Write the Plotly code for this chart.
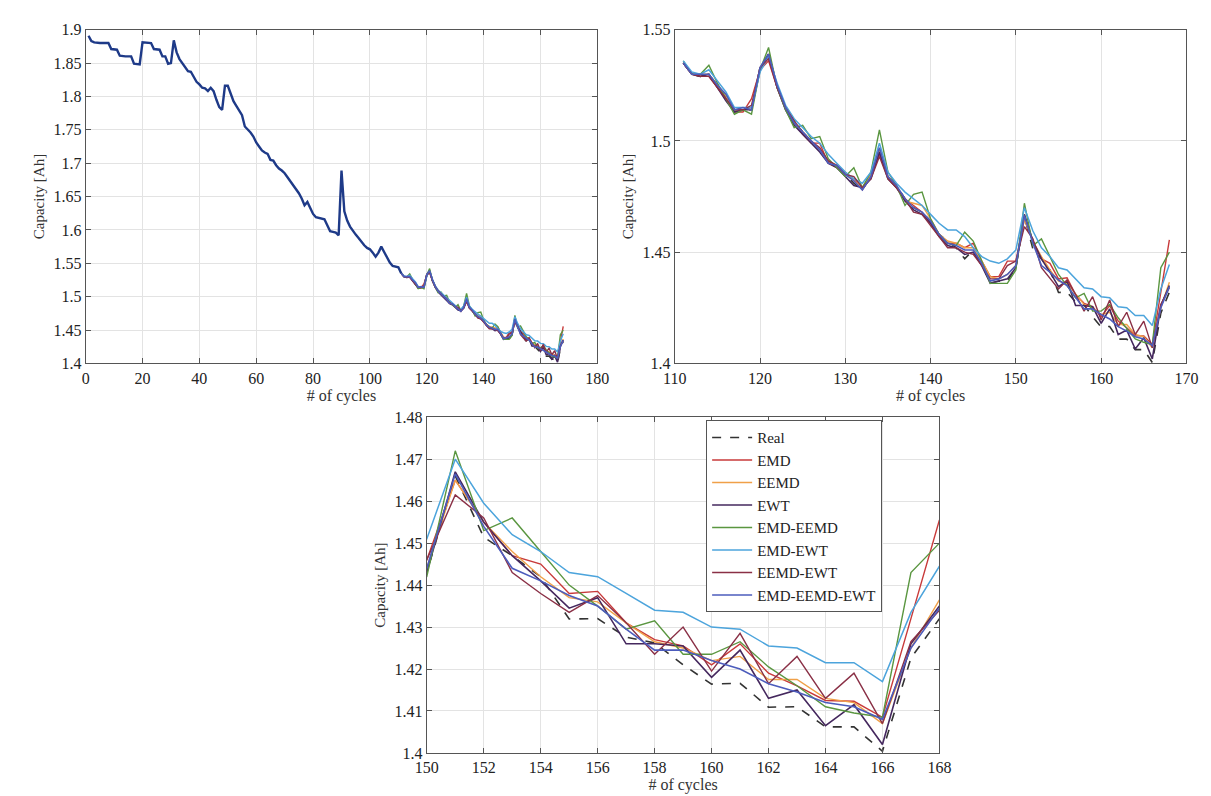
import plotly.graph_objects as go

# ---------------- data ----------------
hist_capacity = [
    1.891, 1.883, 1.881, 1.880, 1.880, 1.880, 1.880, 1.880, 1.871, 1.870,
    1.870, 1.861, 1.860, 1.860, 1.860, 1.860, 1.849, 1.848, 1.848, 1.881,
    1.881, 1.881, 1.880, 1.871, 1.870, 1.870, 1.860, 1.860, 1.849, 1.850,
    1.884, 1.866, 1.856, 1.850, 1.843, 1.838, 1.837, 1.830, 1.822, 1.818,
    1.813, 1.812, 1.808, 1.813, 1.808, 1.795, 1.784, 1.780, 1.816, 1.816,
    1.805, 1.793, 1.786, 1.779, 1.772, 1.755, 1.751, 1.746, 1.740, 1.731,
    1.725, 1.719, 1.716, 1.714, 1.705, 1.704, 1.697, 1.692, 1.689, 1.685,
    1.679, 1.673, 1.667, 1.661, 1.655, 1.647, 1.637, 1.642, 1.632, 1.624,
    1.619, 1.618, 1.617, 1.616, 1.607, 1.598, 1.597, 1.596, 1.592, 1.689,
    1.628, 1.614, 1.605, 1.598, 1.593, 1.588, 1.582, 1.577, 1.573, 1.571,
    1.566, 1.560, 1.566, 1.575, 1.567, 1.558, 1.551, 1.546, 1.545, 1.544,
    1.535,
]
hist_cycles = list(range(1, len(hist_capacity) + 1))

pred_cycles = list(range(111, 169))

real = [
    1.535, 1.530, 1.529, 1.530, 1.525, 1.520, 1.514, 1.514, 1.514, 1.533,
    1.539, 1.525, 1.515, 1.509, 1.504, 1.500, 1.496, 1.491, 1.489, 1.485,
    1.481, 1.478, 1.484, 1.496, 1.484, 1.480, 1.474, 1.470, 1.468, 1.464,
    1.458, 1.455, 1.452, 1.447, 1.451, 1.445, 1.436, 1.437, 1.437,
    1.443, 1.466, 1.4514, 1.447, 1.442, 1.4319, 1.432, 1.4276, 1.4262, 1.421,
    1.4164, 1.4166, 1.4109, 1.411, 1.4062, 1.4062, 1.4004, 1.4226, 1.432,
]

emd = [
    1.535, 1.530, 1.529, 1.529, 1.524, 1.519, 1.513, 1.513, 1.519, 1.532,
    1.536, 1.524, 1.514, 1.508, 1.503, 1.499, 1.499, 1.490, 1.488, 1.485,
    1.483, 1.478, 1.484, 1.494, 1.484, 1.479, 1.474, 1.471, 1.468, 1.463,
    1.458, 1.454, 1.454, 1.452, 1.454, 1.446, 1.439, 1.439, 1.446,
    1.446, 1.465, 1.455, 1.447, 1.445, 1.438, 1.4385, 1.431, 1.427, 1.4255,
    1.421, 1.426, 1.419, 1.416, 1.4125, 1.4123, 1.4085, 1.432, 1.4555,
]

eemd = [
    1.535, 1.530, 1.530, 1.530, 1.525, 1.520, 1.514, 1.514, 1.515, 1.533,
    1.538, 1.525, 1.515, 1.508, 1.504, 1.500, 1.496, 1.491, 1.489, 1.486,
    1.482, 1.479, 1.485, 1.496, 1.484, 1.480, 1.473, 1.472, 1.471, 1.465,
    1.458, 1.455, 1.454, 1.452, 1.452, 1.446, 1.439, 1.438, 1.440,
    1.444, 1.465, 1.455, 1.448, 1.442, 1.437, 1.436, 1.431, 1.4265, 1.425,
    1.422, 1.423, 1.4175, 1.4175, 1.413, 1.412, 1.407, 1.425, 1.4365,
]

ewt = [
    1.535, 1.530, 1.529, 1.530, 1.524, 1.518, 1.513, 1.514, 1.514, 1.532,
    1.539, 1.524, 1.514, 1.507, 1.503, 1.499, 1.495, 1.490, 1.488, 1.484,
    1.480, 1.479, 1.483, 1.495, 1.483, 1.479, 1.473, 1.469, 1.467, 1.463,
    1.457, 1.453, 1.452, 1.449, 1.450, 1.444, 1.436, 1.437, 1.438,
    1.443, 1.467, 1.455, 1.447, 1.441, 1.4345, 1.437, 1.426, 1.426, 1.4255,
    1.418, 1.4245, 1.413, 1.415, 1.4065, 1.4115, 1.402, 1.426, 1.435,
]

emd_eemd = [
    1.536, 1.530, 1.530, 1.534, 1.526, 1.519, 1.512, 1.514, 1.512, 1.532,
    1.542, 1.524, 1.514, 1.506, 1.507, 1.501, 1.502, 1.492, 1.488, 1.484,
    1.488, 1.479, 1.486, 1.505, 1.486, 1.480, 1.471, 1.476, 1.477, 1.465,
    1.458, 1.454, 1.453, 1.459, 1.455, 1.446, 1.436, 1.436, 1.436,
    1.442, 1.472, 1.453, 1.456, 1.448, 1.440, 1.435, 1.4295, 1.4315, 1.4235,
    1.4235, 1.4265, 1.4205, 1.416, 1.411, 1.4095, 1.4085, 1.443, 1.450,
]

emd_ewt = [
    1.536, 1.531, 1.530, 1.532, 1.527, 1.522, 1.515, 1.515, 1.515, 1.531,
    1.538, 1.526, 1.516, 1.510, 1.506, 1.502, 1.499, 1.494, 1.490, 1.486,
    1.483, 1.481, 1.486, 1.499, 1.486, 1.481, 1.477, 1.474, 1.471, 1.467,
    1.463, 1.460, 1.460, 1.457, 1.452, 1.448, 1.446, 1.445, 1.447,
    1.451, 1.470, 1.4595, 1.452, 1.448, 1.443, 1.442, 1.438, 1.434, 1.4335,
    1.430, 1.4295, 1.4255, 1.425, 1.4215, 1.4215, 1.417, 1.4335, 1.4445,
]

eemd_ewt = [
    1.535, 1.530, 1.529, 1.529, 1.524, 1.519, 1.514, 1.514, 1.516, 1.533,
    1.537, 1.524, 1.515, 1.509, 1.504, 1.500, 1.497, 1.491, 1.489, 1.485,
    1.484, 1.479, 1.483, 1.493, 1.483, 1.479, 1.474, 1.468, 1.467, 1.462,
    1.457, 1.452, 1.452, 1.450, 1.449, 1.444, 1.438, 1.438, 1.444,
    1.446, 1.4615, 1.456, 1.443, 1.438, 1.4335, 1.4375, 1.431, 1.4235, 1.430,
    1.4195, 1.4285, 1.4165, 1.423, 1.413, 1.419, 1.407, 1.4265, 1.434,
]

emd_eemd_ewt = [
    1.535, 1.530, 1.530, 1.530, 1.525, 1.521, 1.514, 1.515, 1.514, 1.533,
    1.539, 1.525, 1.515, 1.508, 1.504, 1.500, 1.496, 1.490, 1.489, 1.485,
    1.482, 1.478, 1.484, 1.497, 1.484, 1.480, 1.474, 1.470, 1.468, 1.464,
    1.458, 1.454, 1.453, 1.451, 1.451, 1.445, 1.437, 1.438, 1.440,
    1.444, 1.4665, 1.454, 1.444, 1.441, 1.4375, 1.435, 1.4295, 1.4245, 1.4245,
    1.422, 1.420, 1.4165, 1.4145, 1.412, 1.411, 1.408, 1.425, 1.4345,
]

series_names = ["EMD", "EEMD", "EWT", "EMD-EEMD", "EMD-EWT", "EEMD-EWT", "EMD-EEMD-EWT"]
series_values = [emd, eemd, ewt, emd_eemd, emd_ewt, eemd_ewt, emd_eemd_ewt]
series_colors = ["#c83a3a", "#f0a048", "#45285e", "#5a9640", "#4ca4dc", "#8a3046", "#4c5cbc"]
series_widths = [1.4, 1.4, 1.6, 1.4, 1.5, 1.4, 1.6]

# ---------------- figure ----------------
W, H = 1211, 796
def px_x(a, b):
    return [a / W, b / W]
def px_y(top, bottom):
    return [1 - bottom / H, 1 - top / H]

FONT = "Liberation Serif"
fig = go.Figure()

panels = [
    dict(x="x", y="y", xd=px_x(67, 589), yd=px_y(14, 355), xr=[0, 180], yr=[1.4, 1.9],
         xt=20, yt=0.05),
    dict(x="x2", y="y2", xd=px_x(668, 1190), yd=px_y(14, 355), xr=[110, 170], yr=[1.4, 1.55],
         xt=10, yt=0.05),
    dict(x="x3", y="y3", xd=px_x(415, 938), yd=px_y(410, 753), xr=[150, 168], yr=[1.4, 1.48],
         xt=2, yt=0.01),
]

for i, p in enumerate(panels):
    fig.add_trace(go.Scatter(x=pred_cycles, y=real, mode="lines", name="Real",
                             line=dict(color="#333333", width=1.6, dash="dash"),
                             showlegend=(i == 2), xaxis=p["x"], yaxis=p["y"]))
    for name, vals, col, wd in zip(series_names, series_values, series_colors, series_widths):
        fig.add_trace(go.Scatter(x=pred_cycles, y=vals, mode="lines", name=name,
                                 line=dict(color=col, width=wd),
                                 showlegend=(i == 2), xaxis=p["x"], yaxis=p["y"]))
    if i == 0:
        fig.add_trace(go.Scatter(x=hist_cycles, y=hist_capacity, mode="lines",
                                 line=dict(color="#1e3a88", width=2.4),
                                 showlegend=False, xaxis=p["x"], yaxis=p["y"],
                                 hoverinfo="skip"))

axis_common = dict(
    showgrid=True, gridcolor="#e3e3e3", gridwidth=1,
    showline=True, linecolor="#555555", linewidth=1, mirror="ticks",
    ticks="inside", ticklen=5, tickcolor="#555555",
    tickfont=dict(family=FONT, size=16, color="#222222"),
    zeroline=False,
)

for i, p in enumerate(panels):
    sfx = "" if i == 0 else str(i + 1)
    fig.update_layout(**{
        "xaxis" + sfx: dict(axis_common, domain=p["xd"], range=p["xr"], dtick=p["xt"],
                            tick0=p["xr"][0], anchor=p["y"],
                            title=dict(text="# of cycles", standoff=1,
                                       font=dict(family=FONT, size=16, color="#333333"))),
        "yaxis" + sfx: dict(axis_common, domain=p["yd"], range=p["yr"], dtick=p["yt"],
                            tick0=p["yr"][0], anchor=p["x"],
                            title=dict(text="Capacity [Ah]", standoff=5,
                                       font=dict(family=FONT, size=15, color="#333333"))),
    })

fig.update_layout(
    width=W, height=H,
    margin=dict(l=0, r=0, t=0, b=0),
    paper_bgcolor="white", plot_bgcolor="white",
    font=dict(family=FONT, size=16, color="#222222"),
    legend=dict(
        x=700 / W, y=1 - 413 / H, xanchor="left", yanchor="top",
        bgcolor="white", bordercolor="#555555", borderwidth=1,
        font=dict(family=FONT, size=15, color="#222222"),
        tracegroupgap=0, itemwidth=40,
    ),
    showlegend=True,
)

fig.write_html("out.html")
